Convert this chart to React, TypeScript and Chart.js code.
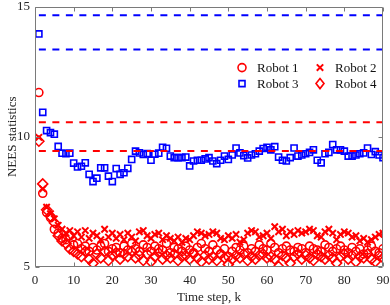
import React, { useEffect, useRef } from 'react';
import { Chart, registerables } from 'chart.js';

Chart.register(...registerables);

const timeSteps = [
  1, 2, 3, 4, 5, 6, 7, 8, 9, 10, 11, 12, 13, 14, 15, 16, 17, 18, 19, 20,
  21, 22, 23, 24, 25, 26, 27, 28, 29, 30, 31, 32, 33, 34, 35, 36, 37, 38, 39, 40,
  41, 42, 43, 44, 45, 46, 47, 48, 49, 50, 51, 52, 53, 54, 55, 56, 57, 58, 59, 60,
  61, 62, 63, 64, 65, 66, 67, 68, 69, 70, 71, 72, 73, 74, 75, 76, 77, 78, 79, 80,
  81, 82, 83, 84, 85, 86, 87, 88, 89, 90,
];

const robot1 = [
  11.7, 7.83, 7.1, 6.9, 6.45, 6.3, 6.1, 6.05, 6.2, 5.85,
  5.9, 5.7, 5.8, 5.6, 5.75, 5.65, 5.8, 5.9, 5.6, 5.7,
  5.75, 5.55, 5.8, 5.65, 5.9, 5.7, 5.6, 5.85, 5.75, 5.6,
  5.8, 5.7, 5.65, 5.9, 5.55, 5.75, 5.7, 5.6, 5.8, 5.65,
  5.55, 5.75, 5.9, 5.7, 5.6, 5.85, 5.65, 5.5, 5.7, 5.4,
  5.6, 5.75, 5.65, 5.8, 5.55, 5.7, 5.6, 5.85, 5.7, 5.65,
  5.9, 5.75, 5.55, 5.7, 5.8, 5.65, 5.6, 5.75, 5.7, 5.55,
  5.8, 5.7, 5.65, 5.6, 5.85, 5.75, 5.6, 5.7, 5.8, 5.65,
  5.55, 5.75, 5.6, 5.7, 5.5, 5.65, 5.8, 5.6, 5.55, 5.7,
];

const robot2 = [
  9.98, 8.0, 7.3, 7.05, 6.85, 6.6, 6.45, 6.3, 6.4, 6.2,
  6.35, 6.15, 6.4, 6.1, 6.3, 6.2, 6.05, 6.45, 6.15, 6.3,
  6.1, 6.25, 6.05, 6.3, 6.15, 6.0, 6.35, 6.4, 6.2, 6.1,
  6.25, 6.3, 6.05, 6.2, 6.1, 6.0, 6.15, 5.95, 6.1, 6.05,
  6.2, 6.35, 6.3, 6.2, 6.25, 6.35, 6.3, 6.1, 6.05, 6.2,
  6.1, 6.25, 5.95, 6.05, 6.3, 6.4, 6.35, 6.15, 6.2, 6.3,
  6.1, 6.55, 6.35, 6.45, 6.2, 6.35, 6.25, 6.4, 6.3, 6.35,
  6.45, 6.4, 6.2, 6.15, 6.35, 6.45, 6.3, 6.05, 6.25, 6.35,
  6.3, 6.15, 6.2, 6.0, 6.1, 5.95, 6.05, 6.15, 6.25, 6.3,
];

const robot3 = [
  13.95, 10.94, 10.24, 10.16, 10.1, 9.63, 9.37, 9.35, 9.37, 8.99,
  8.84, 8.87, 9.0, 8.56, 8.28, 8.41, 8.81, 8.81, 8.49, 8.28,
  8.78, 8.56, 8.62, 8.79, 9.13, 9.45, 9.38, 9.32, 9.36, 9.1,
  9.33, 9.37, 9.6, 9.56, 9.26, 9.2, 9.2, 9.2, 9.22, 8.88,
  9.07, 9.1, 9.1, 9.15, 9.2, 9.07, 8.97, 9.1, 9.26, 9.13,
  9.3, 9.57, 9.38, 9.28, 9.19, 9.3, 9.35, 9.45, 9.55, 9.6,
  9.5, 9.62, 9.22, 9.1, 9.07, 9.2, 9.57, 9.26, 9.3, 9.35,
  9.4, 9.5, 9.1, 9.0, 9.35, 9.4, 9.7, 9.5, 9.5, 9.45,
  9.26, 9.26, 9.3, 9.35, 9.38, 9.57, 9.32, 9.43, 9.3, 9.2,
];

const robot4 = [
  9.83, 8.19, 7.2, 6.95, 6.7, 6.2, 6.0, 5.9, 5.7, 5.6,
  5.5, 5.4, 5.6, 5.3, 5.14, 5.5, 5.35, 5.6, 5.25, 5.45,
  5.55, 5.3, 5.5, 5.4, 5.6, 5.35, 5.45, 5.25, 5.5, 5.2,
  5.4, 5.55, 5.3, 5.45, 5.35, 5.5, 5.25, 5.4, 5.45, 5.3,
  5.5, 5.35, 5.2, 5.45, 5.3, 5.4, 5.25, 5.5, 5.35, 5.1,
  5.3, 5.45, 5.35, 5.5, 5.25, 5.4, 5.3, 5.45, 5.5, 5.35,
  5.4, 5.3, 5.02, 5.45, 5.35, 5.15, 5.4, 5.5, 5.3, 5.45,
  5.35, 5.25, 5.5, 5.4, 5.3, 5.45, 5.35, 5.15, 5.4, 5.5,
  5.3, 5.45, 5.2, 5.4, 5.35, 5.5, 5.3, 5.2, 5.45, 5.35,
];

const blueBounds = [13.35, 14.67];
const redBounds = [9.45, 10.56];
const boundSpan = [1, 90];

const xTickRange = [0, 90, 10];
const yTickRange = [5, 15, 5];

const legendLabels = ['Robot 1', 'Robot 2', 'Robot 3', 'Robot 4'];

const RED = '#ff0000';
const BLUE = '#0000ff';
const FONT = "'Liberation Serif', 'Times New Roman', serif";

const pts = (vals: number[]) => vals.map((v, i) => ({ x: timeSteps[i], y: v }));

function drawMarker(ctx: CanvasRenderingContext2D, style: string, x: number, y: number, color: string) {
  ctx.save();
  ctx.strokeStyle = color;
  ctx.beginPath();
  if (style === 'circle') {
    ctx.lineWidth = 1.6;
    ctx.arc(x, y, 4, 0, Math.PI * 2);
  } else if (style === 'crossRot') {
    ctx.lineWidth = 2;
    const s = 3.2;
    ctx.moveTo(x - s, y - s);
    ctx.lineTo(x + s, y + s);
    ctx.moveTo(x - s, y + s);
    ctx.lineTo(x + s, y - s);
  } else if (style === 'rect') {
    ctx.lineWidth = 1.6;
    ctx.rect(x - 3, y - 3, 6, 6);
  } else if (style === 'rectRot') {
    ctx.lineWidth = 1.6;
    ctx.moveTo(x, y - 5);
    ctx.lineTo(x + 4, y);
    ctx.lineTo(x, y + 5);
    ctx.lineTo(x - 4, y);
    ctx.closePath();
  }
  ctx.stroke();
  ctx.restore();
}

const framePlugin = {
  id: 'frame',
  afterDraw(chart: any) {
    const { ctx, chartArea } = chart;
    const { left, right, top, bottom } = chartArea;
    const xs = chart.scales.x;
    const ys = chart.scales.y;
    ctx.save();
    ctx.strokeStyle = '#7a7a7a';
    ctx.lineWidth = 1;
    const l = Math.round(left) + 0.5;
    const r = Math.round(right) - 0.5;
    const t = Math.round(top) + 0.5;
    const b = Math.round(bottom) - 0.5;
    ctx.beginPath();
    ctx.rect(l, t, r - l, b - t);
    const L = 4;
    xs.ticks.forEach((tk: any) => {
      const px = Math.round(xs.getPixelForValue(tk.value)) + 0.5;
      ctx.moveTo(px, b);
      ctx.lineTo(px, b - L);
      ctx.moveTo(px, t);
      ctx.lineTo(px, t + L);
    });
    ys.ticks.forEach((tk: any) => {
      const py = Math.round(ys.getPixelForValue(tk.value)) + 0.5;
      ctx.moveTo(l, py);
      ctx.lineTo(l + L, py);
      ctx.moveTo(r, py);
      ctx.lineTo(r - L, py);
    });
    ctx.stroke();
    ctx.restore();
  },
};

const legendPlugin = {
  id: 'customLegend',
  afterDraw(chart: any) {
    const { ctx, chartArea } = chart;
    const { right, top } = chartArea;
    const items = [
      { style: 'circle', color: RED, col: 0, row: 0 },
      { style: 'crossRot', color: RED, col: 1, row: 0 },
      { style: 'rect', color: BLUE, col: 0, row: 1 },
      { style: 'rectRot', color: RED, col: 1, row: 1 },
    ];
    ctx.save();
    ctx.font = `13px ${FONT}`;
    ctx.fillStyle = '#111';
    ctx.textBaseline = 'middle';
    ctx.textAlign = 'left';
    items.forEach((it, i) => {
      const mx = right - 141 + it.col * 78;
      const my = top + 61 + it.row * 16;
      drawMarker(ctx, it.style, mx, my, it.color);
      ctx.fillText(legendLabels[i], mx + 15, my + 1);
    });
    ctx.restore();
  },
};

export default function App() {
  const ref = useRef<HTMLCanvasElement | null>(null);

  useEffect(() => {
    document.body.style.margin = '0';
    if (!ref.current) return;

    const boundDataset = (v: number, color: string) => ({
      type: 'line' as const,
      label: 'bound',
      data: boundSpan.map((x) => ({ x, y: v })),
      borderColor: color,
      borderWidth: 2,
      borderDash: [7, 6.5],
      pointRadius: 0,
      showLine: true,
      fill: false,
    });

    const markerDataset = (label: string, vals: number[], style: string, color: string, radius: number, bw: number) => ({
      type: 'scatter' as const,
      label,
      data: pts(vals),
      pointStyle: style,
      pointRadius: radius,
      pointHoverRadius: radius,
      pointBorderWidth: bw,
      borderColor: color,
      backgroundColor: 'rgba(0,0,0,0)',
      showLine: false,
    });

    const chart = new Chart(ref.current, {
      type: 'scatter',
      data: {
        datasets: [
          boundDataset(blueBounds[1], BLUE),
          boundDataset(blueBounds[0], BLUE),
          boundDataset(redBounds[1], RED),
          boundDataset(redBounds[0], RED),
          markerDataset(legendLabels[3], robot4, 'rectRot', RED, 5, 1.6),
          markerDataset(legendLabels[2], robot3, 'rect', BLUE, 4.3, 1.6),
          markerDataset(legendLabels[1], robot2, 'crossRot', RED, 4.5, 2),
          markerDataset(legendLabels[0], robot1, 'circle', RED, 4, 1.6),
        ] as any,
      },
      options: {
        animation: false,
        responsive: false,
        maintainAspectRatio: false,
        layout: { padding: { top: 4, right: 7, left: 0, bottom: 0 } },
        plugins: {
          legend: { display: false },
          tooltip: { enabled: false },
        },
        scales: {
          x: {
            type: 'linear',
            min: xTickRange[0],
            max: xTickRange[1],
            ticks: {
              stepSize: xTickRange[2],
              font: { family: FONT, size: 13 },
              color: '#262626',
              padding: 6,
              maxRotation: 0,
            },
            grid: { drawOnChartArea: false, drawTicks: false, display: false },
            border: { display: false },
            title: {
              display: true,
              text: 'Time step, k',
              font: { family: FONT, size: 13 },
              color: '#262626',
              padding: { top: 0, bottom: 0 },
            },
            afterFit: (scale: any) => {
              scale.height = 38;
              scale.paddingLeft = 0;
              scale.paddingRight = 0;
            },
          },
          y: {
            type: 'linear',
            min: yTickRange[0],
            max: yTickRange[1],
            ticks: {
              stepSize: yTickRange[2],
              font: { family: FONT, size: 13 },
              color: '#262626',
              padding: 5,
            },
            grid: { drawOnChartArea: false, drawTicks: false, display: false },
            border: { display: false },
            title: {
              display: true,
              text: 'NEES statistics',
              font: { family: FONT, size: 13 },
              color: '#262626',
              padding: { top: 5, bottom: 0 },
            },
            afterFit: (scale: any) => {
              scale.width = 35;
              scale.paddingTop = 0;
              scale.paddingBottom = 0;
            },
          },
        },
      },
      plugins: [framePlugin, legendPlugin],
    });

    return () => chart.destroy();
  }, []);

  return (
    <div style={{ width: 390, height: 305 }}>
      <canvas ref={ref} width={390} height={305} style={{ width: 390, height: 305, display: 'block' }} />
    </div>
  );
}
